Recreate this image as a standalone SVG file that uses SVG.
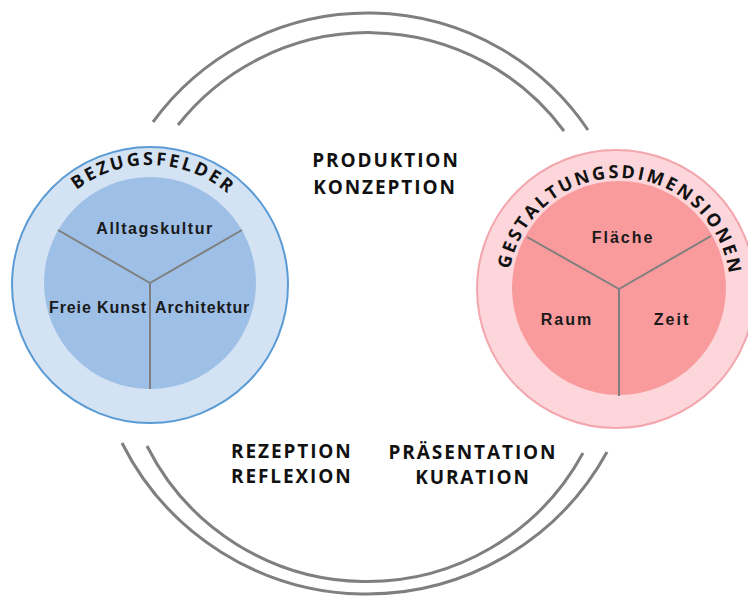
<svg xmlns="http://www.w3.org/2000/svg" width="748" height="596" viewBox="0 0 748 596">
<style>
.arc{fill:none;stroke:#7f7f7f;stroke-width:3}
.spoke{stroke:#7f7f7f;stroke-width:2;fill:none}
.lbl{font-family:"Liberation Sans",Arial,sans-serif;font-weight:700;font-size:16px;fill:#1a1a1a}
.cap{font-family:"Open Sans","DejaVu Sans",sans-serif;font-weight:700;font-size:19px;letter-spacing:1.9px;fill:#111}
.ring{font-family:"Open Sans","DejaVu Sans",sans-serif;font-weight:700;font-size:18px;letter-spacing:2.6px;fill:#111}
</style>
<defs>
<path id="pL" d="M 30 285 A 120 120 0 0 1 270 285"/>
<path id="pR" d="M 508 289 A 111 111 0 0 1 730 289"/>
</defs>
<rect width="748" height="596" fill="#fff"/>
<g id="connectors">
<path class="arc" d="M 153 122 A 266 266 0 0 1 588 130"/>
<path class="arc" d="M 178 125 A 243 243 0 0 1 564 131"/>
<path class="arc" d="M 122 443 A 274 274 0 0 0 607 452"/>
<path class="arc" d="M 147 446 A 246 246 0 0 0 583 453"/>
</g>
<g id="bezugsfelder">
<circle cx="150" cy="285" r="138" fill="#d4e3f4" stroke="#5b9bd5" stroke-width="2"/>
<circle cx="150" cy="283" r="106" fill="#9ebfe6"/>
<path class="spoke" d="M 150 283 L 58 230 M 150 283 L 242 230 M 150 283 L 150 389"/>
<text class="ring" text-anchor="middle" letter-spacing="3.4"><textPath href="#pL" startOffset="51%">BEZUGSFELDER</textPath></text>
<text class="lbl" x="155" y="234" text-anchor="middle" letter-spacing="1.5">Alltagskultur</text>
<text class="lbl" x="49" y="313" letter-spacing="0.9">Freie Kunst</text>
<text class="lbl" x="155" y="313" letter-spacing="0.9">Architektur</text>
</g>
<g id="gestaltungsdimensionen">
<circle cx="616" cy="289" r="139" fill="#fcd6da" stroke="#f3a6ad" stroke-width="2"/>
<circle cx="619" cy="288" r="107" fill="#f99b9c"/>
<path class="spoke" d="M 619 289 L 527 237 M 619 289 L 711 236 M 619 289 L 619 396"/>
<text class="ring" text-anchor="middle"><textPath href="#pR" startOffset="51%">GESTALTUNGSDIMENSIONEN</textPath></text>
<text class="lbl" x="623" y="243" text-anchor="middle" letter-spacing="2">Fläche</text>
<text class="lbl" x="567" y="325" text-anchor="middle" letter-spacing="2">Raum</text>
<text class="lbl" x="672" y="325" text-anchor="middle" letter-spacing="2">Zeit</text>
</g>
<g id="produktion">
<text class="cap" x="386" y="167" text-anchor="middle">PRODUKTION</text>
<text class="cap" x="385" y="194" text-anchor="middle">KONZEPTION</text>
</g>
<g id="rezeption">
<text class="cap" x="231" y="458">REZEPTION</text>
<text class="cap" x="231" y="483">REFLEXION</text>
</g>
<g id="praesentation">
<text class="cap" x="473" y="459" text-anchor="middle">PRÄSENTATION</text>
<text class="cap" x="473" y="484" text-anchor="middle">KURATION</text>
</g>
</svg>
